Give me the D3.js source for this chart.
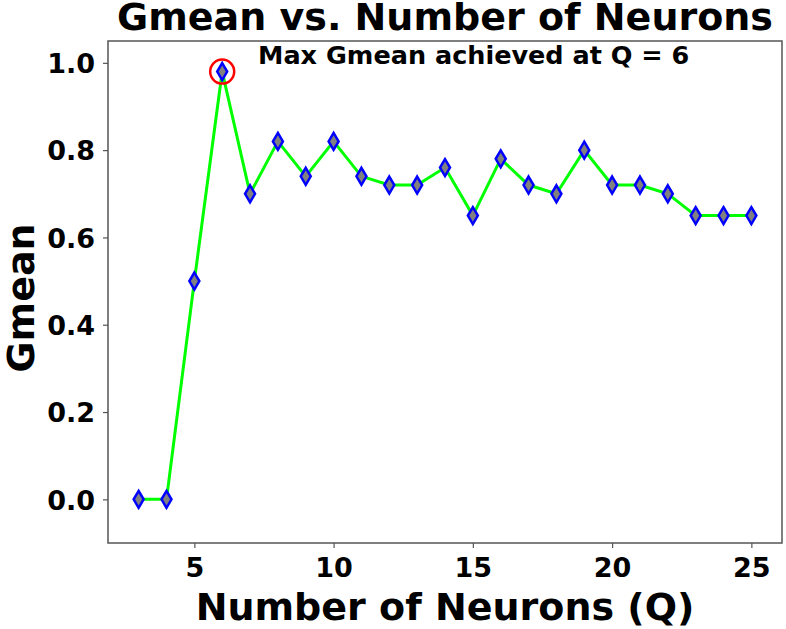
<!DOCTYPE html>
<html><head><meta charset="utf-8">
<script src="https://cdn.jsdelivr.net/npm/d3@7"></script>
<style>body{margin:0;background:#fff}svg{display:block}text{font-family:"DejaVu Sans",sans-serif;font-weight:bold}</style>
</head><body>
<script>
const neurons = [3,4,5,6,7,8,9,10,11,12,13,14,15,16,17,18,19,20,21,22,23,24,25];
const gmean = [0,0,0.50,0.98,0.70,0.82,0.74,0.82,0.74,0.72,0.72,0.76,0.65,0.78,0.72,0.70,0.80,0.72,0.72,0.70,0.65,0.65,0.65];
const xTicks = [5,10,15,20,25];
const yTicks = [0,0.2,0.4,0.6,0.8,1.0];
const titleText = "Gmean vs. Number of Neurons";
const xLabel = "Number of Neurons (Q)";
const yLabel = "Gmean";
const annotation = "Max Gmean achieved at Q = 6";

const W=786,H=629;
const L=108,R=782,T=41,B=543;
const svg=d3.select("body").append("svg").attr("width",W).attr("height",H);
const x=d3.scaleLinear().domain([1.9,26.1]).range([L,R]);
const y=d3.scaleLinear().domain([-0.1,1.05]).range([B,T]);

svg.append("rect").attr("x",L).attr("y",T).attr("width",R-L).attr("height",B-T).attr("fill","none").attr("stroke","#555").attr("stroke-width",1.5);

const xa=svg.append("g").attr("transform",`translate(0,${B})`).call(d3.axisBottom(x).tickValues(xTicks).tickFormat(d3.format("d")).tickSize(5).tickPadding(6));
const ya=svg.append("g").attr("transform",`translate(${L},0)`).call(d3.axisLeft(y).tickValues(yTicks).tickFormat(d3.format(".1f")).tickSize(5).tickPadding(8));
[xa,ya].forEach(a=>{a.select(".domain").remove();a.selectAll("line").attr("stroke","#555").attr("stroke-width",1.2);a.selectAll("text").attr("font-size",27).attr("fill","#000").attr("font-family","DejaVu Sans").attr("font-weight","bold");});
xa.selectAll("text").attr("y",34).attr("dy",0);
ya.selectAll("text").attr("dy","0.36em");

const line=d3.line().x((d,i)=>x(neurons[i])).y(d=>y(d));
svg.append("path").datum(gmean).attr("d",line).attr("fill","none").attr("stroke","#00ff00").attr("stroke-width",3);

const dw=5,dh=8.5;
svg.selectAll("path.m").data(gmean).enter().append("path").attr("class","m")
 .attr("d",(d,i)=>{const cx=x(neurons[i]),cy=y(d);return `M${cx},${cy-dh}L${cx+dw},${cy}L${cx},${cy+dh}L${cx-dw},${cy}Z`;})
 .attr("fill","#808080").attr("stroke","#0000ff").attr("stroke-width",2.5);

const imax=d3.maxIndex(gmean);
svg.append("circle").attr("cx",x(neurons[imax])).attr("cy",y(gmean[imax])).attr("r",12).attr("fill","none").attr("stroke","#ff0000").attr("stroke-width",2.5);

svg.append("text").attr("x",258).attr("y",64).attr("font-size",25.5).text(annotation);
svg.append("text").attr("x",445).attr("y",30).attr("text-anchor","middle").attr("font-size",38).text(titleText);
svg.append("text").attr("x",445).attr("y",620).attr("text-anchor","middle").attr("font-size",38).text(xLabel);
svg.append("text").attr("transform",`translate(34,298) rotate(-90)`).attr("text-anchor","middle").attr("font-size",38).text(yLabel);
</script>
</body></html>
